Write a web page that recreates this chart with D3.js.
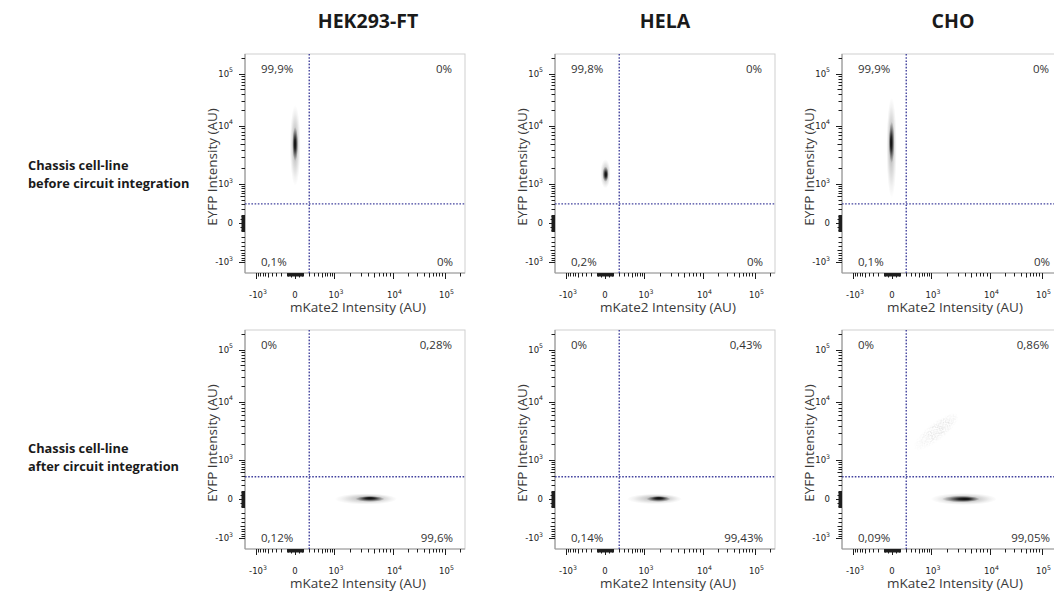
<!DOCTYPE html>
<html>
<head>
<meta charset="utf-8">
<script src="https://cdn.jsdelivr.net/npm/d3@7"></script>
<style>
  html, body { margin: 0; padding: 0; background: #fff; overflow: hidden; }
  svg { display: block; }
</style>
</head>
<body>
<svg id="chart" width="1054" height="591"></svg>
<script>
// ---------------- DATA ----------------
const cellLines = ["HEK293-FT", "HELA", "CHO"];
const rowLabelTop = "Chassis cell-line";
const conditions = ["before circuit integration", "after circuit integration"];
const xAxisTitle = "mKate2 Intensity (AU)";
const yAxisTitle = "EYFP Intensity (AU)";

// major ticks of the biexponential axes and their labels (base + exponent)
const majorTicks = [-1000, 0, 1000, 10000, 100000];
const tickLabelBase = ["-10", "0", "10", "10", "10"];
const tickLabelExp = ["3", "", "3", "4", "5"];

// quadrant percentages [upper-left, upper-right, lower-left, lower-right]
const quadBefore = [
  ["99,9%", "0%", "0,1%", "0%"],
  ["99,8%", "0%", "0,2%", "0%"],
  ["99,9%", "0%", "0,1%", "0%"]
];
const quadAfter = [
  ["0%", "0,28%", "0,12%", "99,6%"],
  ["0%", "0,43%", "0,14%", "99,43%"],
  ["0%", "0,86%", "0,09%", "99,05%"]
];

// quadrant gates (AU)
const gateXBefore = [200, 200, 200];
const gateYBefore = [300, 300, 300];
const gateXAfter = [200, 200, 200];
const gateYAfter = [375, 375, 375];

// cell populations: centre, dense core range and faint halo range (AU)
const popBefore = [
  { xc: 0,   yc: 5000, coreX: [-30, 35], coreY: [2600, 9500],  haloX: [-60, 65], haloY: [900, 25000] },
  { xc: 10,  yc: 1500, coreX: [-28, 40], coreY: [1100, 2100],  haloX: [-55, 65], haloY: [800, 2800] },
  { xc: -10, yc: 5200, coreX: [-35, 28], coreY: [2400, 12000], haloX: [-65, 55], haloY: [450, 35000] }
];
const popAfter = [
  { xc: 4300, yc: 10, coreX: [2460, 7450], coreY: [-32, 32], haloX: [1030, 12200], haloY: [-65, 65] },
  { xc: 1880, yc: 10, coreX: [1120, 3000], coreY: [-32, 32], haloX: [370, 4640],   haloY: [-60, 60] },
  { xc: 4100, yc: 0,  coreX: [1600, 6900], coreY: [-36, 36], haloX: [980, 13900],  haloY: [-70, 70] }
];
// faint double-positive cloud (CHO after integration): from (x0,y0) to (x1,y1)
const faintCloud = [null, null, { x0: 550, y0: 1950, x1: 2400, y1: 5200 }];

// ---------------- LAYOUT ----------------
const svg = d3.select("#chart");
const panelW = 220, panelH = 219;
const colLeft = [245, 555, 842];
const rowTop = [54, 330];
const titleCx = [368, 665, 953];
const rowLabelY = [170, 453];

const FONT = "'Open Sans', 'Noto Sans', 'DejaVu Sans', sans-serif";
const TICKFONT = "'DejaVu Sans', sans-serif";
const gateColor = "#43439e";

// biexponential-like transform mapped by a D3 polylinear scale
const C = 250;
const tr = v => Math.sign(v) * Math.log10(1 + Math.abs(v) / C);
const anchorPx = [11, 50, 89, 147.5, 199.5];
const tx = d3.scaleLinear().domain(majorTicks.map(tr)).range(anchorPx);
const ty = d3.scaleLinear().domain(majorTicks.map(tr)).range(anchorPx.map(p => panelH - p));
const sx = v => tx(tr(v));
const sy = v => ty(tr(v));

// minor tick values
const minorTicks = [];
for (let k = 1; k <= 5; k++) {
  for (let m = 1; m <= 9; m++) {
    const v = m * Math.pow(10, k);
    [v, -v].forEach(d => { if (!majorTicks.includes(d)) minorTicks.push(d); });
  }
}
const minorX = minorTicks.filter(v => sx(v) >= 0 && sx(v) <= panelW);
const minorY = minorTicks.filter(v => sy(v) >= 0 && sy(v) <= panelH);
const isHalf = d => Math.abs(d) / Math.pow(10, Math.floor(Math.log10(Math.abs(d)))) === 5;

const defs = svg.append("defs");
// grain filter for sparse event clouds
const grain = defs.append("filter").attr("id", "grain").attr("x", "-20%").attr("y", "-20%").attr("width", "140%").attr("height", "140%");
grain.append("feTurbulence").attr("type", "fractalNoise").attr("baseFrequency", 0.9).attr("numOctaves", 1).attr("seed", 3).attr("result", "n");
grain.append("feColorMatrix").attr("in", "n").attr("type", "matrix")
  .attr("values", "0 0 0 0 0  0 0 0 0 0  0 0 0 0 0  0 0 0 4 -1.7").attr("result", "a");
grain.append("feComposite").attr("in", "SourceGraphic").attr("in2", "a").attr("operator", "in");

let gradId = 0;
function makeGrad(fx, fy, stops) {
  const id = "g" + (gradId++);
  const g = defs.append("radialGradient").attr("id", id)
    .attr("cx", 0.5).attr("cy", 0.5).attr("r", 0.5)
    .attr("fx", fx).attr("fy", fy);
  stops.forEach(s => g.append("stop").attr("offset", s[0]).attr("stop-color", "#000").attr("stop-opacity", s[1]));
  return id;
}

// ---------------- TITLES ----------------
svg.selectAll("text.coltitle").data(cellLines).enter().append("text")
  .attr("class", "coltitle")
  .attr("x", (d, i) => titleCx[i]).attr("y", 28)
  .attr("text-anchor", "middle")
  .attr("font-family", FONT).attr("font-weight", 700).attr("font-size", 19.5)
  .attr("fill", "#1a1a1a").text(d => d);

conditions.forEach((c, r) => {
  const t = svg.append("text").attr("x", 28).attr("y", rowLabelY[r])
    .attr("font-family", FONT).attr("font-weight", 700).attr("font-size", 12.8).attr("fill", "#1a1a1a");
  t.append("tspan").attr("x", 28).attr("dy", 0).text(rowLabelTop);
  t.append("tspan").attr("x", 28).attr("dy", 18).text(c);
});

// ---------------- PANELS ----------------
function drawPanel(col, row) {
  const g = svg.append("g").attr("transform", `translate(${colLeft[col]},${rowTop[row]})`);
  const quads = row === 0 ? quadBefore[col] : quadAfter[col];
  const gx = row === 0 ? gateXBefore[col] : gateXAfter[col];
  const gy = row === 0 ? gateYBefore[col] : gateYAfter[col];
  const pop = row === 0 ? popBefore[col] : popAfter[col];

  // frame
  g.append("rect").attr("x", 0).attr("y", 0).attr("width", panelW).attr("height", panelH)
    .attr("fill", "#fff").attr("stroke", "#cfcfcf").attr("stroke-width", 1);
  g.append("line").attr("x1", 0).attr("x2", 0).attr("y1", 0).attr("y2", panelH)
    .attr("stroke", "#8a8a8a").attr("stroke-width", 1);
  g.append("line").attr("x1", 0).attr("x2", panelW).attr("y1", panelH).attr("y2", panelH)
    .attr("stroke", "#9a9a9a").attr("stroke-width", 1);

  const clipId = `clip${col}_${row}`;
  defs.append("clipPath").attr("id", clipId).append("rect")
    .attr("x", 0).attr("y", 0).attr("width", panelW).attr("height", panelH);
  const plot = g.append("g").attr("clip-path", `url(#${clipId})`);

  // faint cloud
  const fc = row === 1 ? faintCloud[col] : null;
  if (fc) {
    const x0 = sx(fc.x0), y0 = sy(fc.y0), x1 = sx(fc.x1), y1 = sy(fc.y1);
    const len = Math.hypot(x1 - x0, y1 - y0);
    const ang = Math.atan2(y1 - y0, x1 - x0) * 180 / Math.PI;
    const id = makeGrad(0.65, 0.5, [[0, 0.14], [0.6, 0.08], [1, 0]]);
    plot.append("ellipse")
      .attr("cx", 0).attr("cy", 0).attr("rx", len / 2 + 8).attr("ry", 9)
      .attr("transform", `translate(${(x0 + x1) / 2},${(y0 + y1) / 2}) rotate(${ang})`)
      .attr("fill", `url(#${id})`)
      .attr("filter", "url(#grain)");
  }

  // population halo and core
  const layers = [
    { X: pop.haloX, Y: pop.haloY, stops: [[0, 0.4], [0.45, 0.18], [0.8, 0.05], [1, 0]] },
    { X: pop.coreX, Y: pop.coreY, stops: [[0, 0.95], [0.3, 0.8], [0.65, 0.35], [1, 0]] }
  ];
  layers.forEach(L => {
    const xa = sx(L.X[0]), xb = sx(L.X[1]);
    const ya = sy(L.Y[0]), yb = sy(L.Y[1]);
    const fx = (sx(pop.xc) - xa) / (xb - xa);
    const fy = (sy(pop.yc) - yb) / (ya - yb);
    const id = makeGrad(Math.max(0.1, Math.min(0.9, fx)), Math.max(0.1, Math.min(0.9, fy)), L.stops);
    plot.append("ellipse")
      .attr("cx", (xa + xb) / 2).attr("cy", (ya + yb) / 2)
      .attr("rx", Math.abs(xb - xa) / 2).attr("ry", Math.abs(ya - yb) / 2)
      .attr("fill", `url(#${id})`);
  });

  // gates
  plot.append("line").attr("x1", sx(gx)).attr("x2", sx(gx)).attr("y1", 0).attr("y2", panelH)
    .attr("stroke", gateColor).attr("stroke-width", 1.4).attr("stroke-dasharray", "1.6,1.6");
  plot.append("line").attr("x1", 0).attr("x2", panelW).attr("y1", sy(gy)).attr("y2", sy(gy))
    .attr("stroke", gateColor).attr("stroke-width", 1.4).attr("stroke-dasharray", "1.6,1.6");

  // quadrant labels
  const qpos = [
    { x: 16, y: 19, a: "start" }, { x: panelW - 13, y: 19, a: "end" },
    { x: 16, y: 212, a: "start" }, { x: panelW - 12, y: 212, a: "end" }
  ];
  g.selectAll("text.q").data(quads).enter().append("text")
    .attr("class", "q")
    .attr("x", (d, i) => qpos[i].x).attr("y", (d, i) => qpos[i].y)
    .attr("text-anchor", (d, i) => qpos[i].a)
    .attr("font-family", FONT).attr("font-size", 11.5).attr("fill", "#333")
    .text(d => d);

  // x ticks
  const xt = g.append("g").attr("stroke", "#1e1e1e").attr("stroke-width", 1);
  xt.selectAll("line.minor").data(minorX).enter().append("line")
    .attr("x1", d => Math.round(sx(d)) + 0.5).attr("x2", d => Math.round(sx(d)) + 0.5)
    .attr("y1", panelH).attr("y2", d => panelH + (isHalf(d) ? 4.5 : 3.5));
  xt.selectAll("line.major").data(majorTicks).enter().append("line")
    .attr("x1", d => Math.round(sx(d)) + 0.5).attr("x2", d => Math.round(sx(d)) + 0.5)
    .attr("y1", panelH).attr("y2", panelH + 6);
  // y ticks
  const yt = g.append("g").attr("stroke", "#1e1e1e").attr("stroke-width", 1);
  yt.selectAll("line.minor").data(minorY).enter().append("line")
    .attr("y1", d => Math.round(sy(d)) + 0.5).attr("y2", d => Math.round(sy(d)) + 0.5)
    .attr("x1", 0).attr("x2", d => -(isHalf(d) ? 4.5 : 3.5));
  yt.selectAll("line.major").data(majorTicks).enter().append("line")
    .attr("y1", d => Math.round(sy(d)) + 0.5).attr("y2", d => Math.round(sy(d)) + 0.5)
    .attr("x1", 0).attr("x2", -6);

  // tick labels
  majorTicks.forEach((v, i) => {
    const t = g.append("text").attr("x", sx(v) + (tickLabelExp[i] ? 2 : 0)).attr("y", panelH + 25)
      .attr("text-anchor", "middle").attr("font-family", TICKFONT).attr("font-size", 8.5).attr("fill", "#222");
    t.append("tspan").text(tickLabelBase[i]);
    if (tickLabelExp[i]) t.append("tspan").attr("dy", -4.5).attr("font-size", 6.2).text(tickLabelExp[i]);

    const u = g.append("text").attr("x", -12).attr("y", sy(v) + 3)
      .attr("text-anchor", "end").attr("font-family", TICKFONT).attr("font-size", 8.5).attr("fill", "#222");
    u.append("tspan").text(tickLabelBase[i]);
    if (tickLabelExp[i]) u.append("tspan").attr("dy", -4.5).attr("font-size", 6.2).text(tickLabelExp[i]);
  });

  // axis titles
  g.append("text").attr("x", panelW / 2 + 3).attr("y", panelH + 39)
    .attr("text-anchor", "middle").attr("font-family", FONT).attr("font-size", 13.5).attr("fill", "#3a3a3a")
    .text(xAxisTitle);
  g.append("text").attr("transform", `translate(-28,${113}) rotate(-90)`)
    .attr("text-anchor", "middle").attr("font-family", FONT).attr("font-size", 13.5).attr("fill", "#3a3a3a")
    .text(yAxisTitle);
}

for (let r = 0; r < 2; r++) for (let c = 0; c < 3; c++) drawPanel(c, r);
</script>
</body>
</html>
